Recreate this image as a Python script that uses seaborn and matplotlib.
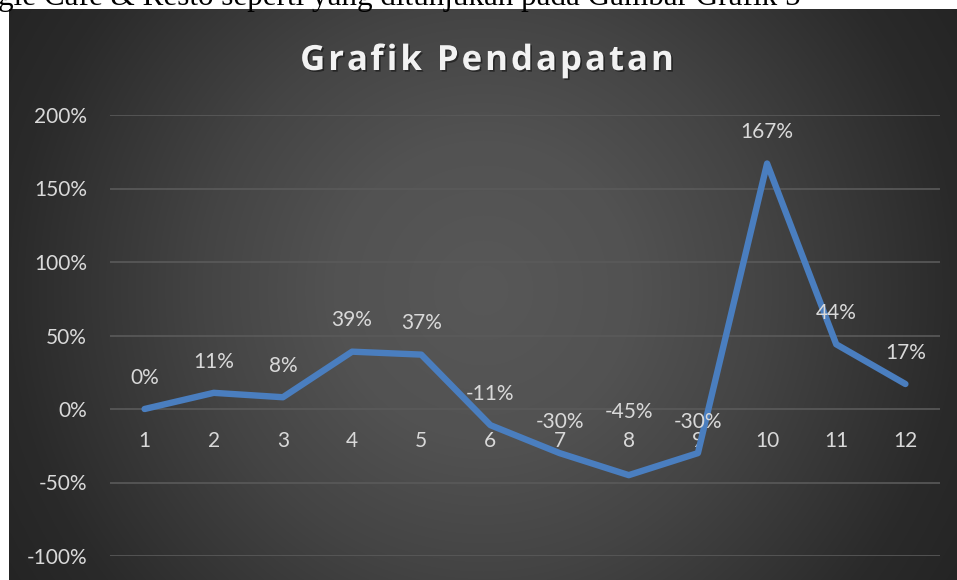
import numpy as np
import pandas as pd
import matplotlib
matplotlib.use("Agg")
import matplotlib.pyplot as plt
import matplotlib.patheffects as pe
import seaborn as sns

months = [1, 2, 3, 4, 5, 6, 7, 8, 9, 10, 11, 12]
growth = [0.00, 0.11, 0.08, 0.39, 0.37, -0.11, -0.30, -0.45, -0.30, 1.67, 0.44, 0.17]
y_ticks = [-1.0, -0.5, 0.0, 0.5, 1.0, 1.5, 2.0]
title = "Grafik Pendapatan"
caption = "gle Cafe & Resto seperti yang ditunjukan pada Gambar Grafik 5"

df = pd.DataFrame({"Bulan": months, "Pertumbuhan": growth})

W, H = 957, 580
fig = plt.figure(figsize=(W / 100, H / 100), dpi=100)
fig.patch.set_facecolor("white")

# caption text from document (mostly cut off at the top)
fig.text(-2 / W, 1 - 5 / H, caption, family="Liberation Serif", fontsize=22.4,
         color="black", ha="left", va="baseline")

# dark radial gradient panel
bg = fig.add_axes([9 / W, 0, (W - 9) / W, (H - 9) / H])
bw, bh = W - 9, H - 9
yy, xx = np.mgrid[0:bh, 0:bw]
d = np.hypot(xx - (483 - 9), yy - (290 - 9))
g = np.interp(d, [0, 150, 281, 474, 560], [88, 82, 68, 42, 36]) / 255.0
img = np.dstack([g, g, g])
bg.imshow(img, aspect="auto", interpolation="bilinear")
bg.set_axis_off()

# main axes
ax = fig.add_axes([110 / W, (H - 556) / H, 830 / W, (556 - 115) / H])
ax.set_facecolor("none")
sns.lineplot(data=df, x="Bulan", y="Pertumbuhan", ax=ax, color="#4A7EBF",
             linewidth=4.6, solid_joinstyle="round", solid_capstyle="round")

ax.set_xlim(0.5, 12.5)
ax.set_ylim(-1.0, 2.0)
ax.set_yticks(y_ticks)
ax.set_yticklabels([f"{int(round(v * 100))}%" for v in y_ticks])
ax.set_xticks(months)
ax.set_xticklabels([str(m) for m in months])
ax.grid(axis="y", color="#5a5a5a", linewidth=1.2)
ax.grid(axis="x", visible=False)
ax.set_axisbelow(True)
for s in ["left", "right", "top"]:
    ax.spines[s].set_visible(False)
ax.spines["bottom"].set_position(("data", 0))
ax.spines["bottom"].set_visible(False)
ax.set_xlabel("")
ax.set_ylabel("")

tick_font = "Lato"
ax.tick_params(axis="y", length=0, pad=16.5, labelsize=15, labelcolor="#d9d9d9")
ax.tick_params(axis="x", length=0, pad=15.5, labelsize=15, labelcolor="#d9d9d9")
for lab in ax.get_xticklabels() + ax.get_yticklabels():
    lab.set_family(tick_font)

# data labels above points (label of the lowest point is pushed up above the axis label)
label_offsets = [22.5] * 12
label_offsets[7] = 45.5
for m, v, off in zip(months, growth, label_offsets):
    ax.annotate(f"{int(round(v * 100))}%", xy=(m, v), xytext=(0, off),
                textcoords="offset points", ha="center", va="center",
                fontsize=15, color="#d9d9d9", family=tick_font)

# letter-spaced title
renderer = fig.canvas.get_renderer()
tkw = dict(family="Open Sans", weight="bold", fontsize=25, color="#f2f2f2",
           ha="left", va="baseline")
shadow = [pe.withSimplePatchShadow(offset=(1.2, -1.2), shadow_rgbFace="black", alpha=0.45)]

def text_width(s):
    t = fig.text(0, 0, s, **tkw)
    w = t.get_window_extent(renderer).width
    t.remove()
    return w

full_w = text_width(title)
spacing = 3.0
total = full_w + spacing * (len(title) - 1)
x0 = 487 - total / 2
for i, ch in enumerate(title):
    xi = x0 + (text_width(title[:i]) if i > 0 else 0) + spacing * i
    if ch != " ":
        fig.text(xi / W, 1 - 70 / H, ch, path_effects=shadow, **tkw)

fig.savefig("out.png", dpi=100)
